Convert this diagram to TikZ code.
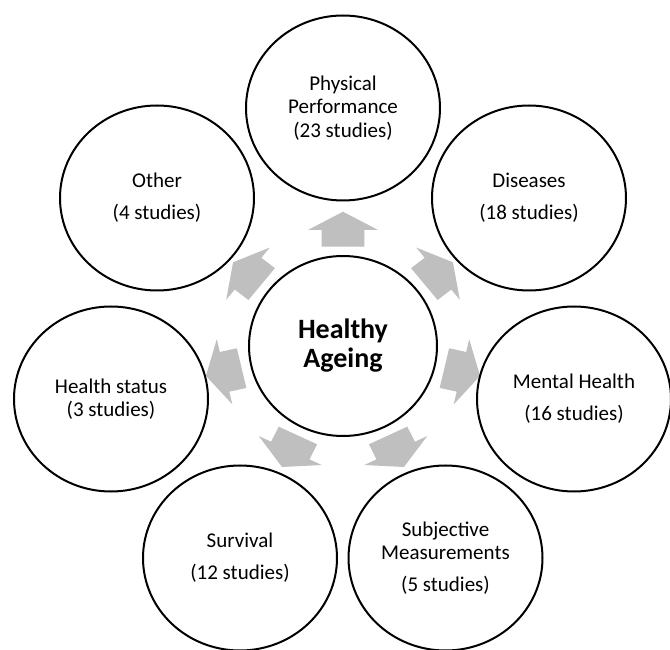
\documentclass[tikz,border=0pt]{standalone}
\usepackage{fontspec}
\setmainfont{Carlito}
\usetikzlibrary{shapes.geometric}
\pgfdeclarelayer{background}
\pgfsetlayers{background,main}
\definecolor{arrowgray}{HTML}{BFBFBF}
\tikzset{
  outercircle/.style={ellipse, draw=black, line width=2pt, fill=white,
    minimum width=194pt, minimum height=185pt, inner sep=0pt, align=center,
    font=\fontsize{21}{23.3}\selectfont},
  hubcircle/.style={ellipse, draw=black, line width=2pt, fill=white,
    minimum width=188pt, minimum height=180pt, inner sep=0pt, align=center,
    font=\fontsize{28}{29}\selectfont\bfseries},
  ringarrow/.style={fill=arrowgray, draw=none}
}
\begin{document}
\begin{tikzpicture}[x=1pt,y=1pt]
\useasboundingbox (0,0) rectangle (670,649);
\node[hubcircle] (hub) at (343,303) {Healthy\\Ageing};
\node[outercircle] (pp)  at (343,541) {Physical\\Performance\\(23 studies)};
\node[outercircle] (dis) at (529,451) {Diseases\\[9pt](18 studies)};
\node[outercircle] (men) at (574,250) {Mental Health\\[9pt](16 studies)};
\node[outercircle] (sub) at (445.5,91) {Subjective\\Measurements\\[9pt](5 studies)};
\node[outercircle] (sur) at (240,91) {Survival\\[9pt](12 studies)};
\node[outercircle] (hea) at (111,250) {Health status\\(3 studies)};
\node[outercircle] (oth) at (157,451) {Other\\[9pt](4 studies)};
\begin{pgfonlayer}{background}
\foreach \a in {90,38.57,-12.86,-64.29,-115.71,-167.14,141.43}{
  \begin{scope}[shift={(hub.center)}, yscale=0.955, rotate=\a]
    \fill[ringarrow] (104,-21.3) -- (121.5,-21.3) -- (121.5,-35) -- (140.6,0)
      -- (121.5,35) -- (121.5,21.3) -- (104,21.3) -- cycle;
  \end{scope}
}
\end{pgfonlayer}
\end{tikzpicture}
\end{document}
